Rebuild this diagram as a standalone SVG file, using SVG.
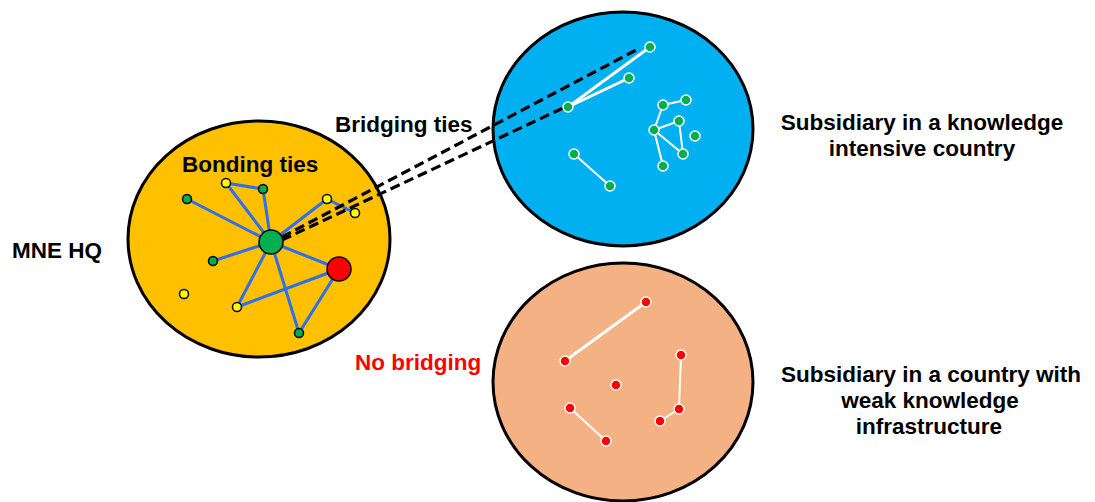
<svg xmlns="http://www.w3.org/2000/svg" width="1095" height="502" viewBox="0 0 1095 502">
<style>
.region{stroke:#000;stroke-width:3}
.lbl{font-family:"Liberation Sans",Arial,sans-serif;font-weight:bold;font-size:22.5px;fill:#000}
.bond{stroke:#2F6FEA;stroke-width:3;fill:none}
.bridge{stroke:#000;stroke-width:3.2;stroke-dasharray:10 5;fill:none}
.wl{stroke:#fff;stroke-width:2;fill:none}
.wl2{stroke:#fff;stroke-width:3;fill:none}
.hn{stroke:#000;stroke-width:1.5}
.sn{stroke:#fff;stroke-width:1.5}
</style>
<rect width="1095" height="502" fill="#fff"/>
<g id="hq">
<ellipse class="region" cx="259" cy="239" rx="131" ry="118" fill="#FFC000"/>
</g>
<g id="sub-knowledge">
<ellipse class="region" cx="623" cy="129" rx="130" ry="117" fill="#00B0F0"/>
</g>
<g id="sub-weak">
<ellipse class="region" cx="623" cy="382" rx="130" ry="119" fill="#F4B183"/>
</g>
<g id="connectors">
<g id="bonding-ties">
<line class="bond" x1="271" y1="242" x2="226" y2="183"/>
<line class="bond" x1="271" y1="242" x2="263" y2="189"/>
<line class="bond" x1="271" y1="242" x2="187" y2="199"/>
<line class="bond" x1="271" y1="242" x2="327" y2="199"/>
<line class="bond" x1="271" y1="242" x2="213" y2="261"/>
<line class="bond" x1="271" y1="242" x2="339" y2="269"/>
<line class="bond" x1="271" y1="242" x2="237" y2="307"/>
<line class="bond" x1="271" y1="242" x2="299" y2="333"/>
<line class="bond" x1="226" y1="183" x2="263" y2="189"/>
<line class="bond" x1="327" y1="199" x2="355" y2="213"/>
<line class="bond" x1="339" y1="269" x2="237" y2="307"/>
<line class="bond" x1="339" y1="269" x2="299" y2="333"/>
</g>
<g id="bridging-ties">
<line class="bridge" x1="282" y1="237" x2="640" y2="48"/>
<line class="bridge" x1="282" y1="240" x2="563" y2="108"/>
</g>
<g id="sub1-ties">
<line class="wl2" x1="568" y1="107" x2="650" y2="47"/>
<line class="wl2" x1="568" y1="107" x2="629" y2="78"/>
<line class="wl" x1="663" y1="105" x2="686" y2="100"/>
<line class="wl" x1="663" y1="105" x2="654" y2="130"/>
<line class="wl" x1="654" y1="130" x2="679" y2="121"/>
<line class="wl" x1="679" y1="121" x2="683" y2="154"/>
<line class="wl" x1="654" y1="130" x2="683" y2="154"/>
<line class="wl" x1="654" y1="130" x2="663" y2="166"/>
<line class="wl" x1="574" y1="154" x2="610" y2="186"/>
</g>
<g id="sub2-ties">
<line class="wl2" x1="646" y1="302" x2="565" y2="361"/>
<line class="wl" x1="681" y1="355" x2="679" y2="409"/>
<line class="wl" x1="679" y1="409" x2="660" y2="421"/>
<line class="wl" x1="570" y1="408" x2="606" y2="441"/>
</g>
</g>
<g id="hq-nodes">
<circle class="hn" cx="226" cy="183" r="4.5" fill="#FFFF00"/>
<circle class="hn" cx="263" cy="189" r="4.5" fill="#00B050"/>
<circle class="hn" cx="187" cy="199" r="4.5" fill="#00B050"/>
<circle class="hn" cx="327" cy="199" r="4.5" fill="#FFFF00"/>
<circle class="hn" cx="355" cy="213" r="4.5" fill="#FFFF00"/>
<circle class="hn" cx="213" cy="261" r="4.5" fill="#00B050"/>
<circle class="hn" cx="184" cy="294" r="4.5" fill="#FFFF00"/>
<circle class="hn" cx="237" cy="307" r="4.5" fill="#FFFF00"/>
<circle class="hn" cx="299" cy="333" r="4.5" fill="#00B050"/>
<circle class="hn" cx="271" cy="242" r="12" fill="#00B050"/>
<circle class="hn" cx="339" cy="269" r="12" fill="#FF0000"/>
</g>
<g id="sub1-nodes" fill="#00B050">
<circle class="sn" cx="650" cy="47" r="5"/>
<circle class="sn" cx="629" cy="78" r="5"/>
<circle class="sn" cx="568" cy="107" r="5"/>
<circle class="sn" cx="663" cy="105" r="5"/>
<circle class="sn" cx="686" cy="100" r="5"/>
<circle class="sn" cx="679" cy="121" r="5"/>
<circle class="sn" cx="654" cy="130" r="5"/>
<circle class="sn" cx="695" cy="136" r="5"/>
<circle class="sn" cx="683" cy="154" r="5"/>
<circle class="sn" cx="663" cy="166" r="5"/>
<circle class="sn" cx="574" cy="154" r="5"/>
<circle class="sn" cx="610" cy="186" r="5"/>
</g>
<g id="sub2-nodes" fill="#FF0000">
<circle class="sn" cx="646" cy="302" r="5"/>
<circle class="sn" cx="565" cy="361" r="5"/>
<circle class="sn" cx="616" cy="385" r="5"/>
<circle class="sn" cx="681" cy="355" r="5"/>
<circle class="sn" cx="679" cy="409" r="5"/>
<circle class="sn" cx="660" cy="421" r="5"/>
<circle class="sn" cx="570" cy="408" r="5"/>
<circle class="sn" cx="606" cy="441" r="5"/>
</g>
<g id="labels">
<text class="lbl" x="12" y="258">MNE HQ</text>
<text class="lbl" x="182" y="172">Bonding ties</text>
<text class="lbl" x="335" y="132">Bridging ties</text>
<text class="lbl" x="355" y="370" fill="#FF0000" style="fill:#FF0000">No bridging</text>
<text class="lbl" text-anchor="middle" x="922" y="130">Subsidiary in a knowledge</text>
<text class="lbl" text-anchor="middle" x="922" y="156">intensive country</text>
<text class="lbl" text-anchor="middle" x="931" y="382">Subsidiary in a country with</text>
<text class="lbl" text-anchor="middle" x="930" y="408">weak knowledge</text>
<text class="lbl" text-anchor="middle" x="929" y="434">infrastructure</text>
</g>
</svg>
